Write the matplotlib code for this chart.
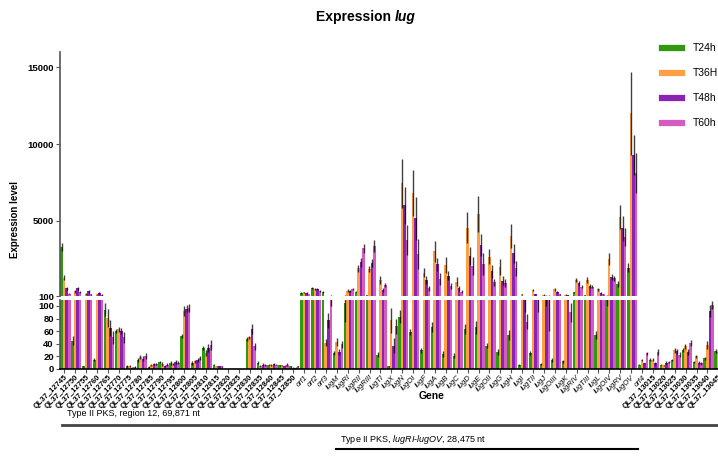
import matplotlib
matplotlib.use('Agg')
import matplotlib.pyplot as plt
from matplotlib.lines import Line2D
import numpy as np

plt.rcParams['font.family'] = ['Liberation Sans', 'DejaVu Sans']
plt.rcParams['mathtext.fontset'] = 'custom'
plt.rcParams['mathtext.it'] = 'Liberation Sans:italic'
plt.rcParams['mathtext.rm'] = 'Liberation Sans'

genes = ['QL37_12745', 'QL37_12750', 'QL37_12755', 'QL37_12760', 'QL37_12765', 'QL37_12770',
         'QL37_12775', 'QL37_12780', 'QL37_12785', 'QL37_12790', 'QL37_12795', 'QL37_12800',
         'QL37_12805', 'QL37_12810', 'QL37_12815', 'QL37_12820', 'QL37_12825', 'QL37_12830',
         'QL37_12835', 'QL37_12840', 'QL37_12845', 'QL37_12850',
         'orf1', 'orf2', 'orf3', 'lugM', 'lugRI', 'lugRII', 'lugRIII', 'lugTI', 'lugX', 'lugN',
         'lugOI', 'lugF', 'lugA', 'lugB', 'lugC', 'lugD', 'lugE', 'lugOII', 'lugG', 'lugH',
         'lugI', 'lugTII', 'lugJ', 'lugOIII', 'lugK', 'lugRIV', 'lugTIII', 'lugL', 'lugOIV',
         'lugRV', 'lugOV',
         'orf4', 'QL37_13015', 'QL37_13020', 'QL37_13025', 'QL37_13030', 'QL37_13035',
         'QL37_13040', 'QL37_13045']

t24 = [3300, 45, 4, 15, 94, 60, 4, 14, 3, 11, 10, 52, 10, 33, 7, 0, 0, 47, 10, 7, 6, 4,
       300, 620, 380, 25, 105, 380, 165, 23, 4, 83, 59, 30, 66, 24, 21, 63, 66, 37, 27, 54,
       6, 26, 8, 14, 12, 340, 165, 54, 120, 880, 1940,
       7, 15, 7, 14, 30, 11, 17, 29]
t36 = [1300, 400, 250, 200, 81, 63, 5, 19, 6, 8, 8, 92, 12, 25, 4, 0, 0, 50, 5, 6, 6, 2,
       330, 540, 42, 43, 450, 1900, 1840, 1140, 77, 7440, 6830, 1620, 3000, 2120, 1030, 4550,
       5440, 2660, 2000, 4000, 200, 490, 165, 535, 165, 1140, 1140, 535, 2490, 5260, 12000,
       14, 15, 6, 30, 36, 20, 38, 27]
t48 = [600, 600, 400, 300, 65, 60, 2, 16, 8, 5, 11, 96, 14, 33, 4, 0, 0, 64, 7, 8, 5, 2,
       300, 560, 77, 27, 420, 2290, 2230, 490, 37, 6020, 5160, 1140, 2160, 1420, 600, 2700,
       3420, 1700, 1100, 2880, 110, 210, 130, 380, 140, 930, 750, 275, 1320, 4500, 9280,
       9, 9, 10, 28, 27, 10, 92, 25]
t60 = [250, 350, 200, 170, 50, 50, 3, 21, 8, 7, 10, 97, 17, 38, 4, 0, 0, 36, 6, 7, 7, 4,
       230, 420, 130, 39, 560, 3200, 3380, 815, 68, 3750, 2830, 600, 1200, 770, 380, 2070,
       2180, 980, 930, 1900, 75, 110, 110, 210, 90, 700, 700, 210, 1250, 3960, 8090,
       25, 27, 11, 23, 41, 9, 102, 20]

e24 = [250, 7, 1, 2, 10, 3, 2, 3, 1, 2, 3, 3, 3, 3, 1, 0, 0, 3, 2, 1, 1, 1,
       50, 60, 60, 3, 30, 50, 30, 4, 1, 10, 5, 4, 8, 5, 4, 8, 10, 4, 5, 8,
       2, 3, 2, 3, 2, 50, 30, 6, 20, 200, 300,
       1, 3, 1, 2, 3, 1, 2, 3]
e36 = [150, 80, 60, 50, 15, 4, 2, 3, 2, 3, 2, 8, 3, 5, 1, 0, 0, 3, 2, 2, 1, 1,
       50, 50, 5, 6, 100, 250, 200, 250, 20, 1600, 1500, 300, 700, 500, 300, 1000, 1200,
       500, 500, 800, 60, 80, 50, 100, 40, 150, 200, 100, 400, 800, 2700,
       2, 3, 1, 4, 4, 2, 6, 3]
e48 = [100, 100, 80, 60, 12, 5, 1, 4, 2, 2, 3, 6, 3, 6, 1, 0, 0, 8, 2, 2, 1, 1,
       40, 60, 12, 5, 80, 300, 250, 100, 12, 1200, 1400, 250, 400, 300, 150, 600, 700,
       400, 300, 600, 20, 40, 30, 60, 30, 150, 150, 60, 200, 800, 1300,
       1, 2, 2, 4, 4, 2, 10, 3]
e60 = [50, 60, 40, 40, 10, 8, 2, 5, 2, 3, 2, 6, 3, 8, 1, 0, 0, 6, 2, 1, 2, 1,
       30, 50, 30, 5, 80, 300, 400, 100, 12, 1000, 1000, 150, 400, 200, 100, 600, 700,
       200, 250, 500, 12, 20, 50, 40, 15, 100, 100, 40, 150, 600, 1300,
       2, 5, 2, 4, 5, 2, 6, 3]

series = ['T24h', 'T36H', 'T48h', 'T60h']
colors = ['#2e9a0c', '#ff9f43', '#8a22b4', '#d45bc2']

W, H = 718, 476
fig = plt.figure(figsize=(W / 100, H / 100), dpi=100)

def rect(l, t, r, b):
    return [l / W, 1 - b / H, (r - l) / W, (b - t) / H]

x_lo, x_hi = -0.4, 61.0
px_per = 10.9
right_px = 60 + (x_hi - x_lo) * px_per
ax_top = fig.add_axes(rect(60, 52, right_px, 296))
ax_bot = fig.add_axes(rect(60, 300, right_px, 369))

x = np.arange(len(genes))
bw = 0.235
vals = [t24, t36, t48, t60]
errs = [e24, e36, e48, e60]
for ax in (ax_top, ax_bot):
    for k in range(4):
        xx = x + 0.1 + (k - 1.5) * bw
        ax.bar(xx, vals[k], bw, color=colors[k], zorder=2, linewidth=0)
        ax.errorbar(xx, vals[k], yerr=errs[k], fmt='none', ecolor='black',
                    elinewidth=1.0, alpha=0.75, capsize=0, zorder=3)
    ax.set_xlim(x_lo, x_hi)
    ax.spines['top'].set_visible(False)
    ax.spines['right'].set_visible(False)
    ax.spines['left'].set_color('#555555')
    ax.spines['left'].set_linewidth(1.2)
    ax.tick_params(axis='y', length=3, width=0.8, color='#555555', labelsize=6.8, pad=1.5)

ax_top.set_ylim(100, 16000)
ax_top.set_yticks([100, 5000, 10000, 15000])
ax_top.set_yticklabels(['100', '5000', '10000', '15000'], fontweight='bold', fontsize=6.8)
ax_top.spines['bottom'].set_visible(False)
ax_top.set_xticks([])

ax_bot.set_ylim(0, 109.5)
ax_bot.set_yticks([0, 20, 40, 60, 80, 100])
ax_bot.set_yticklabels(['0', '20', '40', '60', '80', '100'], fontweight='bold', fontsize=6.8)
ax_bot.spines['bottom'].set_color('black')
ax_bot.spines['bottom'].set_linewidth(1.2)
ax_bot.set_xticks(x)
ax_bot.set_xticklabels(genes, rotation=45, ha='right', rotation_mode='anchor', fontsize=5.5)
ax_bot.tick_params(axis='x', length=3, width=0.8, color='#555555', pad=0.5)
for lab in ax_bot.get_xticklabels():
    if lab.get_text().startswith('QL37'):
        lab.set_fontweight('bold')
    else:
        lab.set_fontstyle('italic')

# labels
fig.text(15 / W, 1 - 220 / H, 'Expression level', rotation=90, ha='center', va='center',
         fontsize=7, fontweight='bold')
fig.text(432 / W, 1 - 396 / H, 'Gene', ha='center', va='center', fontsize=7.5, fontweight='bold')

# title
fig.canvas.draw()
r = fig.canvas.get_renderer()
t1 = fig.text(316 / W, 1 - 17 / H, 'Expression ', ha='left', va='center', fontsize=10,
              fontweight='bold')
bb = t1.get_window_extent(renderer=r)
fig.text(bb.x1 / W, 1 - 17 / H, 'lug', ha='left', va='center', fontsize=10,
         fontweight='bold', fontstyle='italic')

# legend
handles = [Line2D([], [], color=c, lw=4.5) for c in colors]
fig.legend(handles, series, loc='upper left', bbox_to_anchor=(658 / W, 1 - 39 / H),
           frameon=False, fontsize=7.5, handlelength=1.9, labelspacing=1.45,
           handletextpad=1.0, borderaxespad=0)

# region annotations
fig.text(67 / W, 1 - 414 / H, 'Type II PKS, region 12, 69,871 nt', ha='left', va='center',
         fontsize=6.5)
fig.add_artist(Line2D([62 / W, 1.0], [1 - 425 / H] * 2, color='#444444', lw=2))
fig.text(340 / W, 1 - 439 / H, r'Type II PKS, $\mathit{lugRI}$-$\mathit{lugOV}$, 28,475 nt',
         ha='left', va='center', fontsize=6.5)
fig.add_artist(Line2D([336 / W, 638 / W], [1 - 449 / H] * 2, color='black', lw=1.5))

fig.savefig('out.png', dpi=100)
